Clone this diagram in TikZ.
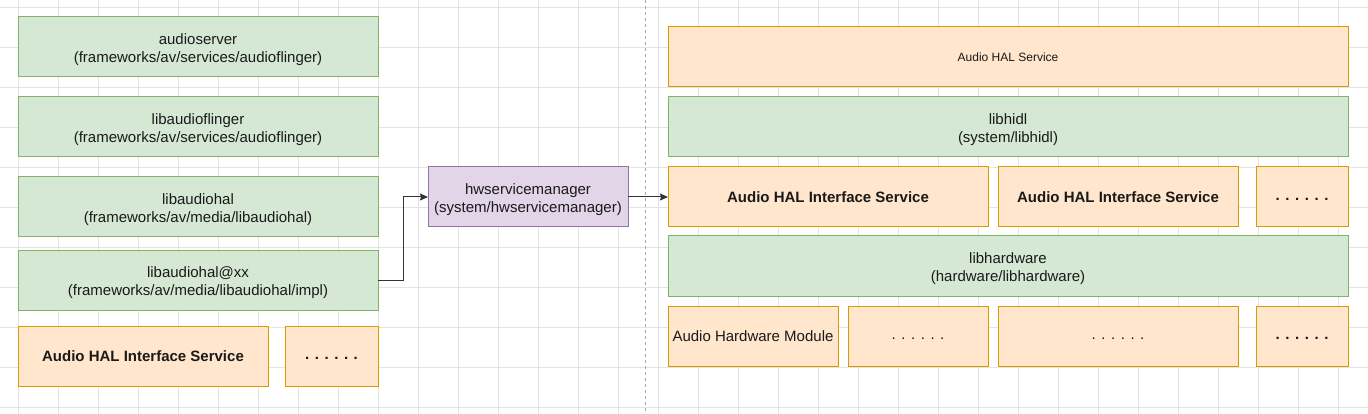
\documentclass[tikz,border=0pt]{standalone}
\usepackage{fontspec}
\setmainfont{Liberation Sans}
\usetikzlibrary{arrows.meta}
\definecolor{gfill}{HTML}{D5E8D4}
\definecolor{gline}{HTML}{82B366}
\definecolor{ofill}{HTML}{FFE6CC}
\definecolor{oline}{HTML}{D79B00}
\definecolor{pfill}{HTML}{E1D5E7}
\definecolor{pline}{HTML}{9673A6}
\definecolor{gridc}{HTML}{E4E4E4}
\definecolor{txt}{HTML}{1A1A1A}
\definecolor{arr}{HTML}{333333}
\newcommand{\tfix}{\rule{0pt}{17pt}}
\newcommand{\dotrow}{\vphantom{Ag}. . . . . .}
\tikzset{
  box/.style={draw, line width=1pt, inner sep=0pt, outer sep=0pt, align=center, text=txt,
    font=\fontsize{15}{18}\selectfont},
  gbox/.style={box, fill=gfill, draw=gline},
  obox/.style={box, fill=ofill, draw=oline},
  pbox/.style={box, fill=pfill, draw=pline},
  bld/.style={font=\fontsize{15}{18}\selectfont\bfseries},
  conn/.style={draw=arr, line width=1pt, -{Stealth[length=8pt,width=7pt,inset=1pt]}}
}
\begin{document}
\begin{tikzpicture}[x=1pt,y=-1pt]
\useasboundingbox (0,0) rectangle (1368,414);
\fill[white] (0,0) rectangle (1368,414);
\foreach \gx in {18,58,...,1378} \draw[gridc, line width=0.8pt] (\gx,0) -- (\gx,414);
\foreach \gy in {7,47,...,414} \draw[gridc, line width=0.8pt] (0,\gy) -- (1368,\gy);
\draw[gray!70, dashed, line width=0.6pt] (645,0) -- (645,414);

% left column
\node[gbox, minimum width=360pt, minimum height=60pt] (as) at (198,47) {\tfix audioserver\\(frameworks/av/services/audioflinger)};
\node[gbox, minimum width=360pt, minimum height=60pt] (laf) at (198,127) {\tfix libaudioflinger\\(frameworks/av/services/audioflinger)};
\node[gbox, minimum width=360pt, minimum height=60pt] (lah) at (198,207) {\tfix libaudiohal\\(frameworks/av/media/libaudiohal)};
\node[gbox, minimum width=360pt, minimum height=60pt] (lahxx) at (198,280) {\tfix libaudiohal@xx\\(frameworks/av/media/libaudiohal/impl)};
\node[obox, bld, minimum width=250pt, minimum height=60pt] (ahisL) at (143,356) {Audio HAL Interface Service};
\node[obox, bld, minimum width=93pt, minimum height=60pt] (dotsL) at (331.5,356) {\dotrow};

% middle
\node[pbox, minimum width=200pt, minimum height=60pt] (hwsm) at (528,197) {\tfix hwservicemanager\\(system/hwservicemanager)};

% right column
\node[obox, font=\fontsize{12}{14}\selectfont, minimum width=680pt, minimum height=60pt] (ahs) at (1008,57) {Audio HAL Service};
\node[gbox, minimum width=680pt, minimum height=60pt] (libhidl) at (1008,127) {\tfix libhidl\\(system/libhidl)};
\node[obox, bld, minimum width=320pt, minimum height=60pt] (ahis1) at (828,197) {Audio HAL Interface Service};
\node[obox, bld, minimum width=240pt, minimum height=60pt] (ahis2) at (1118,197) {Audio HAL Interface Service};
\node[obox, bld, minimum width=92pt, minimum height=60pt] (dots1) at (1302,197) {\dotrow};
\node[gbox, minimum width=680pt, minimum height=60pt] (libhw) at (1008,266) {\tfix libhardware\\(hardware/libhardware)};
\node[obox, minimum width=170pt, minimum height=60pt] (ahm) at (753,336) {Audio Hardware Module};
\node[obox, minimum width=140pt, minimum height=60pt] (dots2) at (918,336) {\dotrow};
\node[obox, minimum width=240pt, minimum height=60pt] (dots3) at (1118,336) {\dotrow};
\node[obox, bld, minimum width=92pt, minimum height=60pt] (dots4) at (1302,336) {\dotrow};

% connectors
\draw[conn] (lahxx.east) -- ++(25,0) |- (hwsm.west);
\draw[conn] (hwsm.east) -- (ahis1.west);
\end{tikzpicture}
\end{document}
